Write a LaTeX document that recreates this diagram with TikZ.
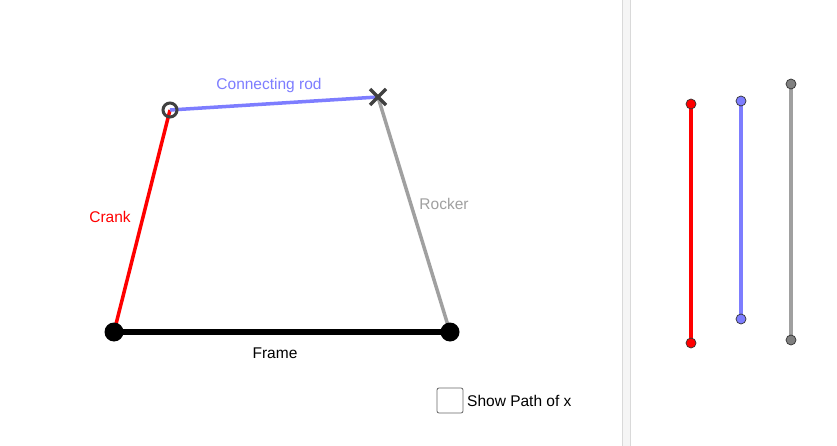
\documentclass[tikz,border=0pt]{standalone}
\usepackage{fontspec}
\setmainfont{Liberation Sans}
\usetikzlibrary{calc}
\definecolor{rodblue}{RGB}{125,125,255}
\definecolor{rockgray}{RGB}{160,160,160}
\definecolor{jointgray}{RGB}{64,64,64}
\begin{document}
\begin{tikzpicture}[x=1pt,y=-1pt,font=\fontsize{15.5}{18}\selectfont,
  lbl/.style={inner sep=0pt},
  bigdot/.style={circle,fill=black,minimum size=19pt,inner sep=0pt},
  smalldot/.style={circle,draw=black!80,line width=0.7pt,minimum size=10pt,inner sep=0pt}]
\useasboundingbox (0,0) rectangle (837,446);
\fill[white] (0,0) rectangle (837,446);
\fill[black!4] (622,0) rectangle (630,446);
\draw[black!15,line width=0.8pt] (622,0) -- (622,446) (630,0) -- (630,446);
\coordinate (A) at (114,332);
\coordinate (B) at (450,332);
\coordinate (C) at (170,110);
\coordinate (D) at (378,97);
\draw[line width=6pt] (A) -- (B);
\draw[red,line width=3.5pt] (A) -- (C);
\draw[rockgray,line width=3.5pt] (B) -- (D);
\draw[rodblue,line width=3.5pt] (C) -- (D);
\node[bigdot] (na) at (A) {};
\node[bigdot] (nb) at (B) {};
\node[circle,draw=jointgray,line width=3pt,minimum size=14pt,inner sep=0pt] (nc) at (C) {};
\draw[jointgray,line width=3.5pt] ($(D)+(-8,-8)$) -- ($(D)+(8,8)$) ($(D)+(-8,8)$) -- ($(D)+(8,-8)$);
\node[lbl,text=rodblue] (tcr) at (269,85) {Connecting rod};
\node[lbl,text=red] (tcrank) at (110,217) {Crank};
\node[lbl,text=rockgray] (trock) at (444,204) {Rocker};
\node[lbl] (tframe) at (275,353) {Frame};
\draw[black!60,rounded corners=2pt,line width=0.8pt] (437,388) rectangle (463,413);
\node[lbl,anchor=west] (tshow) at (467,401) {Show Path of x};
\draw[red,line width=3.5pt] (691,104) -- (691,343);
\node[smalldot,fill=red] (r1) at (691,104) {};
\node[smalldot,fill=red] (r2) at (691,343) {};
\draw[rodblue,line width=3.5pt] (741,101) -- (741,319);
\node[smalldot,fill=rodblue] (b1) at (741,101) {};
\node[smalldot,fill=rodblue] (b2) at (741,319) {};
\draw[rockgray,line width=3.5pt] (791,84) -- (791,340);
\node[smalldot,fill=rockgray!80!black] (g1) at (791,84) {};
\node[smalldot,fill=rockgray!80!black] (g2) at (791,340) {};
\end{tikzpicture}
\end{document}
